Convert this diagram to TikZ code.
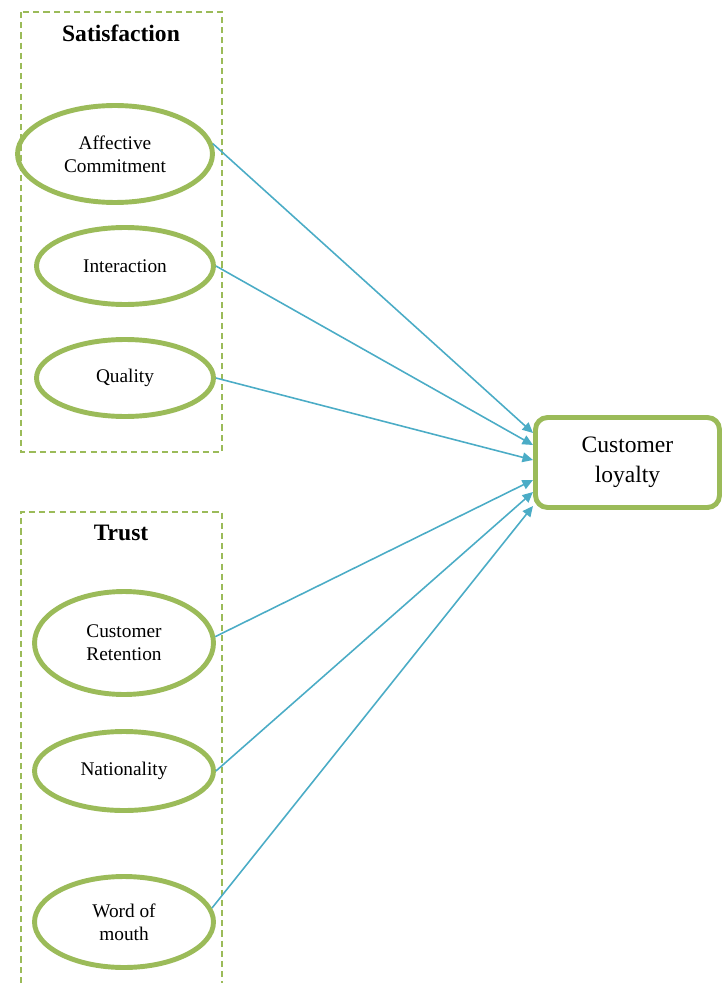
\documentclass[tikz,border=0pt]{standalone}
\usepackage{fontspec}
\setmainfont{Liberation Serif}
\usetikzlibrary{shapes.geometric,arrows.meta}
\definecolor{leafgreen}{HTML}{9BBB59}
\definecolor{linkblue}{HTML}{4BACC6}
\tikzset{
  factor/.style={ellipse, draw=leafgreen, line width=2.8pt, inner sep=0pt,
    align=center, font=\fontsize{11}{13}\selectfont},
  groupbox/.style={draw=leafgreen, line width=0.6pt, dash pattern=on 3.5pt off 2.3pt},
  grouptitle/.style={font=\fontsize{13.4}{16}\selectfont\bfseries},
  link/.style={draw=linkblue, line width=0.9pt, -{Triangle[length=6pt,width=5.5pt]}}
}
\begin{document}
\begin{tikzpicture}[x=0.02cm, y=-0.02cm]
  \useasboundingbox (0,0) rectangle (722,983);

  % Two dashed groups
  \draw[groupbox] (21,12) rectangle (222,452);
  \draw[groupbox] (21,983) |- (222,512) -- (222,983);
  \node[grouptitle] (sattitle) at (121,33) {Satisfaction};
  \node[grouptitle] (trusttitle) at (121,533) {Trust};

  % Factors of satisfaction
  \node[factor, minimum width=3.9cm, minimum height=1.94cm] (affect) at (115,154) {Affective\\Commitment};
  \node[factor, minimum width=3.54cm, minimum height=1.54cm] (interact) at (125,266) {Interaction};
  \node[factor, minimum width=3.54cm, minimum height=1.54cm] (quality) at (125,378) {Quality};

  % Factors of trust
  \node[factor, minimum width=3.58cm, minimum height=2.06cm] (retain) at (124,643) {Customer\\Retention};
  \node[factor, minimum width=3.58cm, minimum height=1.58cm] (nation) at (124,771) {Nationality};
  \node[factor, minimum width=3.58cm, minimum height=1.82cm] (mouth) at (124,922) {Word of\\mouth};

  % Outcome
  \node[draw=leafgreen, line width=2.8pt, rounded corners=0.24cm, fill=white,
    minimum width=3.68cm, minimum height=1.8cm, align=center,
    font=\fontsize{13.4}{17}\selectfont] (loyal) at (627.5,462.5) {Customer\\loyalty};

  % Arrow ends on the outcome box
  \coordinate (in1) at (533,433);
  \coordinate (in2) at (533,445);
  \coordinate (in3) at (533,460);
  \coordinate (in4) at (533,480);
  \coordinate (in5) at (533,492);
  \coordinate (in6) at (533,506);

  % Links
  \draw[link] (affect.6) -- (in1);
  \draw[link] (interact.east) -- (in2);
  \draw[link] (quality.east) -- (in3);
  \draw[link] (retain.4) -- (in4);
  \draw[link] (nation.east) -- (in5);
  \draw[link] (mouth.9) -- (in6);
\end{tikzpicture}
\end{document}
